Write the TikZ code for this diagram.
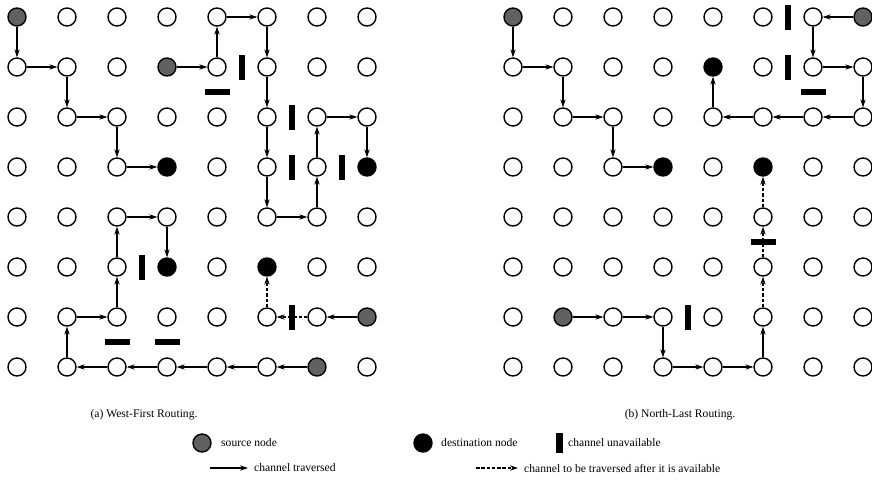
\documentclass[tikz,border=0pt]{standalone}
\usepackage{fontspec}
\setmainfont{Liberation Serif}
\usetikzlibrary{arrows.meta,calc}

\tikzset{
  pe/.style={circle, draw, line width=0.8pt, minimum size=0.36cm, inner sep=0pt},
  src/.style={fill=black!62},
  dst/.style={fill=black},
  go/.style={-{Stealth[length=4.5pt,width=3pt]}, line width=0.6pt},
  wait/.style={go, dash pattern=on 2pt off 1pt},
  bv/.style={fill, inner sep=0pt, minimum width=0.12cm, minimum height=0.5cm},
  bh/.style={fill, inner sep=0pt, minimum width=0.5cm, minimum height=0.12cm},
  txt/.style={font=\fontsize{6.6}{8}\selectfont},
  % sources and destinations
  a00/.style=src, a31/.style=src, a76/.style=src, a67/.style=src,
  a33/.style=dst, a73/.style=dst, a35/.style=dst, a55/.style=dst,
  b00/.style=src, b70/.style=src, b16/.style=src,
  b33/.style=dst, b41/.style=dst, b53/.style=dst
}

\begin{document}
\begin{tikzpicture}
  \useasboundingbox (0,0) rectangle (17.44,-9.8);

  %mesh a
  \foreach \i in {0,...,7}
    \foreach \j in {0,...,7}
      \node[pe, a\i\j/.try] (a\i\j) at (0.34+\i,-0.34-\j) {};

  %mesh b
  \foreach \i in {0,...,7}
    \foreach \j in {0,...,7}
      \node[pe, b\i\j/.try] (b\i\j) at (10.26+\i,-0.34-\j) {};

  %west-first paths
  \foreach \p/\q in {a00/a01, a01/a11, a11/a12, a12/a22, a22/a23, a23/a33,
      a31/a41, a41/a40, a40/a50, a50/a51, a51/a52, a52/a53, a53/a54,
      a54/a64, a64/a63, a63/a62, a62/a72, a72/a73,
      a67/a57, a57/a47, a47/a37, a37/a27, a27/a17, a17/a16, a16/a26,
      a26/a25, a25/a24, a24/a34, a34/a35, a76/a66}
    \draw[go] (\p) -- (\q);
  \draw[wait] (a66) -- (a56);
  \draw[wait] (a56) -- (a55);

  %north-last paths
  \foreach \p/\q in {b00/b01, b01/b11, b11/b12, b12/b22, b22/b23, b23/b33,
      b70/b60, b60/b61, b61/b71, b71/b72, b72/b62, b62/b52, b52/b42, b42/b41,
      b16/b26, b26/b36, b36/b37, b37/b47, b47/b57, b57/b56}
    \draw[go] (\p) -- (\q);
  \draw[wait] (b56) -- (b55);
  \draw[wait] (b55) -- (b54);
  \draw[wait] (b54) -- (b53);

  %unavailable channels
  \node[bv] (xa1) at ($(a41)!0.5!(a51)$) {};
  \node[bh] (xa2) at ($(a41)!0.5!(a42)$) {};
  \node[bv] (xa3) at ($(a52)!0.5!(a62)$) {};
  \node[bv] (xa4) at ($(a53)!0.5!(a63)$) {};
  \node[bv] (xa5) at ($(a63)!0.5!(a73)$) {};
  \node[bv] (xa6) at ($(a25)!0.5!(a35)$) {};
  \node[bv] (xa7) at ($(a56)!0.5!(a66)$) {};
  \node[bh] (xa8) at ($(a26)!0.5!(a27)$) {};
  \node[bh] (xa9) at ($(a36)!0.5!(a37)$) {};
  \node[bv] (xb1) at ($(b50)!0.5!(b60)$) {};
  \node[bv] (xb2) at ($(b51)!0.5!(b61)$) {};
  \node[bh] (xb3) at ($(b61)!0.5!(b62)$) {};
  \node[bh] (xb4) at ($(b54)!0.5!(b55)$) {};
  \node[bv] (xb5) at ($(b36)!0.5!(b46)$) {};

  %captions
  \node[txt] (capa) at (2.88,-8.3) {(a) West-First Routing.};
  \node[txt] (capb) at (13.6,-8.3) {(b) North-Last Routing.};

  %legend
  \node[pe, src] (ksrc) at (4.04,-8.86) {};
  \node[txt, anchor=west] (tsrc) at (4.3,-8.86) {source node};
  \node[pe, dst] (kdst) at (8.46,-8.86) {};
  \node[txt, anchor=west] (tdst) at (8.7,-8.86) {destination node};
  \node[fill, inner sep=0pt, minimum width=0.14cm, minimum height=0.4cm] (kbar) at (11.18,-8.86) {};
  \node[txt, anchor=west] (tbar) at (11.24,-8.86) {channel unavailable};
  \coordinate (kgo) at (4.2,-9.36);
  \node[txt, anchor=west] (tgo) at (4.96,-9.36) {channel traversed};
  \draw[go] (kgo) -- (tgo);
  \coordinate (kwait) at (9.52,-9.36);
  \node[txt, anchor=west] (twait) at (10.36,-9.36) {channel to be traversed after it is available};
  \draw[wait] (kwait) -- (twait);
\end{tikzpicture}
\end{document}
